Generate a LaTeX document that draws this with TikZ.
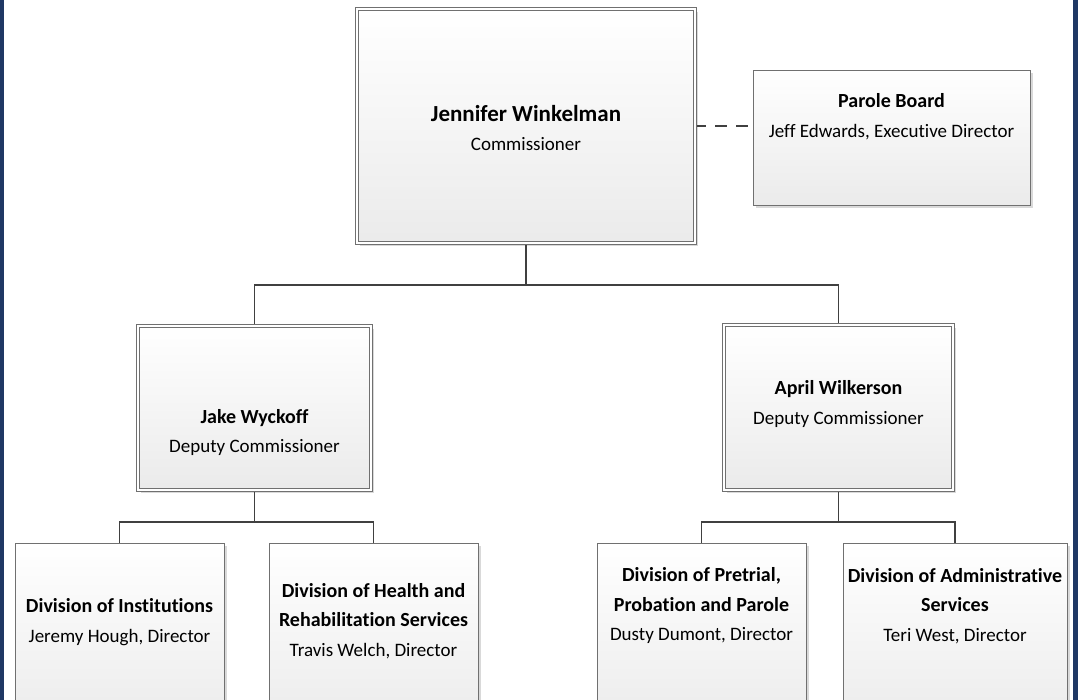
\documentclass[tikz,border=0pt]{standalone}
\usepackage{fontspec}
\setmainfont[Ligatures=NoCommon]{Carlito}
\usepackage{tikz}
\usetikzlibrary{shadows}
\definecolor{sideblue}{HTML}{1F3864}
\definecolor{boxline}{HTML}{707070}
\definecolor{wiregray}{HTML}{404040}
\newcommand{\hd}[1]{{\fontsize{20}{30}\selectfont\bfseries #1}}
\newcommand{\rl}[1]{{\fontsize{19}{30}\selectfont #1}}

\begin{document}
\begin{tikzpicture}[x=1pt,y=-1pt,
            unit/.style={draw=boxline,line width=0.9pt,top color=white,bottom color=black!8,
                drop shadow={shadow xshift=3pt,shadow yshift=-3pt,fill=black,opacity=0.15}},
            head/.style={unit,double=white,double distance=2.4pt,outer sep=2.2pt},
            txt/.style={align=center,font=\fontsize{19}{29.5}\selectfont},
            wire/.style={draw=wiregray,line width=1.3pt}]
            \useasboundingbox (0,0) rectangle (1078,700);
            \fill[white] (0,0) rectangle (1078,700);
            \fill[sideblue] (0,0) rectangle (3.5,700);
            \fill[sideblue] (1073,0) rectangle (1078,700);

            \node[head,minimum width=338,minimum height=234] (comm) at (526,126) {};
            \node[unit,minimum width=277,minimum height=135] (parole) at (891.5,137.5) {};
            \node[head,minimum width=233,minimum height=164] (jake) at (254.5,408) {};
            \node[head,minimum width=229,minimum height=165] (april) at (838.5,407.5) {};
            \node[unit,minimum width=209,minimum height=190] (inst) at (119.5,638) {};
            \node[unit,minimum width=209,minimum height=190] (health) at (373.5,638) {};
            \node[unit,minimum width=209,minimum height=190] (pretrial) at (701.5,638) {};
            \node[unit,minimum width=224,minimum height=190] (admin) at (955,638) {};

            \node[txt] (commtxt) at (526,128) {{\fontsize{23}{30}\selectfont\bfseries Jennifer Winkelman}\\\rl{Commissioner}};
            \node[txt] (paroletxt) at (891.5,116.5) {\hd{Parole Board}\\\rl{Jeff Edwards, Executive Director}};
            \node[txt] (jaketxt) at (254.5,432.5) {\hd{Jake Wyckoff}\\\rl{Deputy Commissioner}};
            \node[txt] (apriltxt) at (838.5,404) {\hd{April Wilkerson}\\\rl{Deputy Commissioner}};
            \node[txt] (insttxt) at (119.5,622) {\hd{Division of Institutions}\\\rl{Jeremy Hough, Director}};
            \node[txt] (healthtxt) at (373.5,621) {\hd{Division of Health and}\\\hd{Rehabilitation Services}\\\rl{Travis Welch, Director}};
            \node[txt] (pretrialtxt) at (701.5,606) {\hd{Division of Pretrial,}\\\hd{Probation and Parole}\\\rl{Dusty Dumont, Director}};
            \node[txt] (admintxt) at (955,606) {\hd{Division of Administrative}\\\hd{Services}\\\rl{Teri West, Director}};

            \coordinate (topbus) at (526,285);
            \coordinate (jakebus) at (254.5,522);
            \coordinate (aprilbus) at (838.5,522);
            \draw[wire] (comm.south) -- (topbus) -| (jake.north);
            \draw[wire] (topbus) -| (april.north);
            \draw[wire] (jake.south) -- (jakebus) -| (inst.north);
            \draw[wire] (jakebus) -| (health.north);
            \draw[wire] (april.south) -- (aprilbus) -| (pretrial.north);
            \draw[wire] (aprilbus) -| (admin.north);
            \draw[wire,dash pattern=on 12pt off 9pt,dash phase=3pt] (comm.east) -- (comm.east -| parole.west);
          \end{tikzpicture}
\end{document}
